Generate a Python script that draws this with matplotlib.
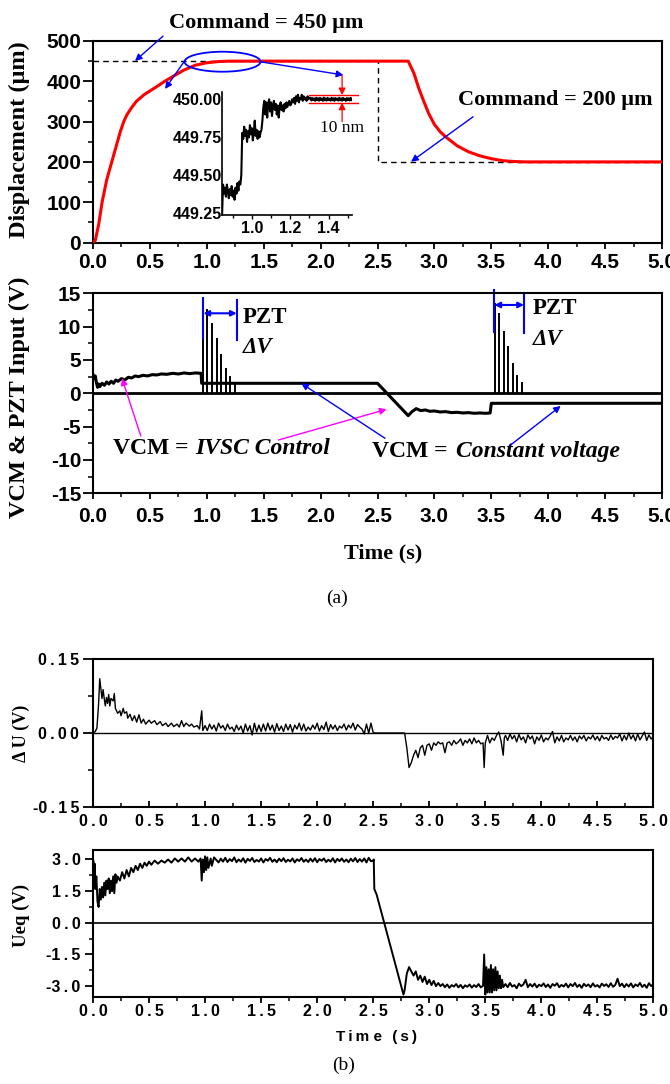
import matplotlib
matplotlib.use("Agg")
import matplotlib.pyplot as plt
import numpy as np
from matplotlib.patches import Ellipse
from matplotlib.ticker import MultipleLocator, FormatStrFormatter, FuncFormatter

# ── Fonts / figure ───────────────────────────────────────────────────────────
SERIF = "Liberation Serif"
SANS = "Liberation Sans"
plt.rcParams["font.family"] = [SANS, "DejaVu Sans"]
plt.rcParams["font.weight"] = "bold"
plt.rcParams["axes.linewidth"] = 1.5
plt.rcParams["axes.unicode_minus"] = False

W, H = 670, 1084          # output size in pixels (dpi 100)
THIN = "\u2009"

# ── Data ─────────────────────────────────────────────────────────────────────
# (a) top: displacement response and command
disp_t = [0.00, 0.02, 0.05, 0.08, 0.12, 0.165, 0.21, 0.24, 0.27, 0.30, 0.34,
          0.38, 0.45, 0.55, 0.63, 0.72, 0.80, 0.90, 1.00, 1.10, 1.20, 2.00,
          2.77, 2.82, 2.86, 2.90, 2.95, 3.00, 3.05, 3.10, 3.20, 3.30, 3.40,
          3.50, 3.60, 3.70, 3.80, 5.00]
disp_v = [0, 5, 45, 100, 155, 200, 245, 275, 300, 318, 335, 350, 367, 385,
          400, 415, 428, 440, 446, 449, 450, 450, 450, 420, 385, 355, 320,
          293, 275, 262, 240, 225, 215, 208, 203, 201, 200, 200]
cmd_t = [0.0, 2.5, 2.5, 5.0]
cmd_v = [450, 450, 200, 200]

# inset: zoom of the settling near 450 um
ins_a = [449.24, 449.44, 449.38, 449.42, 449.36, 449.44, 449.40, 449.35,
         449.41, 449.37, 449.43, 449.36, 449.40, 449.34, 449.42, 449.38,
         449.45, 449.40, 449.46, 449.44, 449.50]
ins_b = [449.78, 449.74, 449.82, 449.76, 449.80, 449.72, 449.79, 449.75,
         449.83, 449.77, 449.81, 449.73, 449.78, 449.86, 449.76, 449.80,
         449.74, 449.79, 449.75, 449.78, 449.80, 449.86]
ins_c = [449.95, 449.99, 449.90, 449.98, 449.88, 449.97, 450.00, 449.92,
         449.98, 449.89, 449.96, 449.99, 449.93, 449.97, 449.90, 449.96,
         449.88, 449.95, 449.98, 449.93, 449.96, 449.92, 449.97, 449.94,
         449.98, 449.95, 449.97, 449.99, 449.96]
ins_d = [449.97, 450.00, 449.98, 450.01, 449.97, 450.02, 449.99, 450.03,
         449.98, 450.01, 450.00, 450.03, 449.99, 450.02, 450.00, 450.01,
         449.99, 450.02, 450.00, 450.01]
ins_e = [450.010, 449.992, 450.008, 449.995, 450.006, 449.990, 450.010,
         449.994, 450.007, 449.991, 450.009, 449.996, 450.005, 449.990,
         450.011, 449.993, 450.006, 449.992, 450.009, 449.995, 450.004,
         449.991, 450.010, 449.994, 450.007, 449.990, 450.008, 449.996,
         450.005, 449.992, 450.010, 449.993, 450.006, 449.991, 450.009,
         449.995, 450.004, 449.990, 450.008, 449.994, 450.007, 449.992,
         450.009, 449.996]

# (a) middle: VCM input and PZT pulses
vcm_t = [0.00, 0.01, 0.02, 0.03, 0.04, 0.05, 0.06, 0.08, 0.10, 0.12, 0.14,
         0.16, 0.18, 0.20, 0.22, 0.25, 0.28, 0.31, 0.34, 0.37, 0.40, 0.44,
         0.48, 0.52, 0.56, 0.60, 0.65, 0.70, 0.75, 0.80, 0.85, 0.90, 0.95,
         0.955, 2.50, 2.77, 2.80, 2.84, 2.88, 2.92, 2.96, 3.00, 3.05, 3.10,
         3.15, 3.20, 3.25, 3.30, 3.35, 3.40, 3.45, 3.49, 3.50, 5.00]
vcm_v = [2.8, 2.2, 2.6, 1.6, 0.9, 1.4, 1.0, 1.5, 1.2, 1.7, 1.4, 1.8, 1.5,
         2.0, 1.8, 2.2, 2.0, 2.4, 2.3, 2.6, 2.5, 2.7, 2.6, 2.8, 2.75, 2.9,
         2.85, 3.0, 2.9, 3.05, 2.95, 3.05, 3.0, 1.5, 1.5, -3.35, -2.8, -2.3,
         -2.6, -2.5, -2.7, -2.65, -2.8, -2.75, -2.9, -2.85, -2.95, -2.9,
         -3.0, -2.95, -3.0, -2.95, -1.5, -1.5]
pzt1_t = [0.964, 0.999, 1.043, 1.087, 1.127, 1.166, 1.206, 1.248]
pzt1_v = [14.0, 12.6, 10.5, 8.25, 5.9, 3.75, 2.6, 1.6]
pzt2_t = [3.533, 3.57, 3.61, 3.65, 3.69, 3.73, 3.77]
pzt2_v = [13.5, 12.0, 9.35, 7.1, 4.6, 2.75, 1.75]

# (b) top: delta U
du_t0 = [0.00, 0.02, 0.035, 0.05, 0.06, 0.07, 0.08, 0.09, 0.10, 0.11, 0.12,
         0.13, 0.14, 0.15, 0.16, 0.18, 0.19, 0.20, 0.21, 0.22, 0.24, 0.25,
         0.27, 0.28, 0.30, 0.31, 0.33, 0.35, 0.37, 0.39, 0.41, 0.43, 0.45,
         0.47, 0.50, 0.52, 0.55, 0.57, 0.60, 0.62, 0.65, 0.67, 0.70, 0.72,
         0.75, 0.77, 0.79, 0.81, 0.83, 0.86, 0.88, 0.90, 0.93, 0.95, 0.97,
         0.98, 1.00]
du_v0 = [0.0, 0.003, 0.01, 0.06, 0.11, 0.09, 0.07, 0.088, 0.07, 0.055,
         0.072, 0.06, 0.078, 0.055, 0.07, 0.065, 0.08, 0.05, 0.045, 0.04,
         0.045, 0.035, 0.05, 0.04, 0.043, 0.03, 0.038, 0.025, 0.035, 0.022,
         0.037, 0.02, 0.028, 0.018, 0.026, 0.02, 0.025, 0.017, 0.023, 0.015,
         0.02, 0.013, 0.02, 0.013, 0.018, 0.012, 0.025, 0.013, 0.02, 0.014,
         0.018, 0.012, 0.015, 0.008, 0.045, 0.005, 0.015]
du_mid = [0.005, 0.018, 0.008, 0.016, 0.004, 0.02, 0.01, 0.015, 0.005, 0.018,
          0.008, 0.012, 0.003, 0.016, 0.006, 0.014, 0.0, 0.018, 0.004, 0.015,
          -0.004, 0.02, 0.002, 0.016, 0.003, 0.018, 0.004, 0.02, 0.006,
          0.016, 0.002, 0.019, 0.005, 0.014, 0.003, 0.018, 0.006, 0.017,
          0.002, 0.016, 0.008, 0.02, 0.005, 0.018, 0.004, 0.012, 0.006,
          0.016, 0.008, 0.02, 0.004, 0.015, 0.007, 0.022, 0.003, 0.017,
          0.008, 0.016, 0.005, 0.014, 0.01, 0.018, 0.006, 0.016, 0.01, 0.02,
          0.006, 0.017, 0.012, 0.008, -0.002, 0.018, 0.0, 0.02, 0.001]
du_t1 = [2.52, 2.78, 2.80, 2.82, 2.84, 2.86, 2.88, 2.90, 2.92, 2.94, 2.96,
         2.98, 3.00, 3.02, 3.04, 3.06, 3.08, 3.10, 3.12, 3.14, 3.16, 3.18,
         3.20, 3.22, 3.24, 3.26, 3.28, 3.30, 3.32, 3.34, 3.36, 3.38, 3.40,
         3.42, 3.44, 3.46, 3.48, 3.49, 3.50, 3.52, 3.54, 3.56, 3.58, 3.60,
         3.62, 3.64, 3.66, 3.67]
du_v1 = [0.0, 0.0, -0.03, -0.07, -0.06, -0.045, -0.035, -0.05, -0.03,
         -0.025, -0.045, -0.025, -0.022, -0.035, -0.02, -0.025, -0.018,
         -0.022, -0.02, -0.04, -0.02, -0.018, -0.025, -0.015, -0.022, -0.018,
         -0.012, -0.025, -0.015, -0.02, -0.012, -0.022, -0.01, -0.02, -0.015,
         -0.022, -0.02, -0.07, -0.02, -0.005, -0.02, -0.01, -0.015, -0.005,
         0.002, -0.015, -0.045, -0.01]
du_tail = [-0.005, -0.015, -0.002, -0.012, -0.005, -0.018, -0.003, -0.014,
           -0.008, -0.02, -0.004, -0.012, -0.006, -0.022, -0.008, -0.015,
           -0.004, -0.018, -0.01, -0.014, -0.006, 0.003, -0.02, -0.008,
           -0.016, -0.005, -0.018, -0.01, -0.014, -0.005, -0.015, -0.008,
           -0.018, -0.006, -0.012, -0.005, -0.016, -0.008, -0.012, -0.004,
           -0.014, -0.007, -0.016, -0.005, -0.012, -0.009, -0.015, -0.004,
           -0.013, -0.007, -0.01, -0.002, -0.016, -0.005, -0.014, 0.0,
           -0.012, -0.004, -0.016, -0.002, -0.014, -0.006, 0.002, -0.015,
           -0.004, -0.012, -0.008]

# (b) bottom: Ueq
ueq_t0 = [0.0, 0.005, 0.01, 0.015, 0.02, 0.03, 0.04, 0.05, 0.06, 0.07, 0.08,
          0.09, 0.10, 0.11, 0.12, 0.13, 0.14, 0.15, 0.16, 0.17, 0.18, 0.19,
          0.20, 0.21, 0.22, 0.24, 0.26, 0.28, 0.30, 0.32, 0.34, 0.36, 0.38,
          0.40, 0.42, 0.44, 0.46, 0.48, 0.50, 0.52, 0.55, 0.58, 0.61, 0.64,
          0.67, 0.70, 0.73, 0.76, 0.79, 0.82, 0.85, 0.88, 0.91, 0.94, 0.96,
          0.97, 0.98, 0.99, 1.00, 1.01, 1.02, 1.03, 1.05, 1.06, 1.08]
ueq_v0 = [3.0, 2.9, 2.0, 2.8, 1.6, 2.2, 1.0, 0.75, 1.6, 1.1, 1.7, 1.2, 1.9,
          1.3, 2.0, 1.6, 2.1, 1.4, 2.0, 1.5, 2.2, 1.4, 2.3, 1.9, 2.2, 2.0,
          2.4, 2.1, 2.5, 2.2, 2.6, 2.4, 2.7, 2.5, 2.8, 2.6, 2.85, 2.7, 2.9,
          2.75, 2.95, 2.8, 2.95, 2.85, 3.0, 2.85, 3.05, 2.9, 3.05, 2.9, 3.1,
          2.9, 3.05, 2.9, 3.05, 2.0, 3.0, 2.4, 3.15, 2.5, 3.1, 2.6, 3.05, 2.7,
          3.1]
ueq_plat = [2.98, 2.86, 3.04, 2.9, 3.08, 2.88, 3.02, 2.92, 3.1, 2.87, 3.0,
            2.9, 3.06, 2.85, 3.03, 2.93, 3.07, 2.88, 2.98, 2.9, 3.05, 2.86,
            3.02, 2.94, 3.08, 2.89, 3.0, 2.87, 3.04, 2.92, 3.06, 2.88, 2.99,
            2.91, 3.05, 2.86, 3.01, 2.93, 3.07, 2.89, 3.0, 2.88, 3.04, 2.9,
            3.06, 2.87, 3.02, 2.94, 3.05, 2.88, 2.99, 2.9, 3.06, 2.86, 3.03,
            2.92, 3.05, 2.89, 3.0, 2.87, 3.04, 2.91, 3.07, 2.88, 3.02, 2.9,
            3.05, 2.86, 3.08, 2.92]
ueq_t1 = [2.50, 2.505, 2.51, 2.53, 2.77, 2.78, 2.80, 2.82, 2.84, 2.86, 2.88,
          2.90, 2.92, 2.94, 2.96, 2.98, 3.00, 3.02, 3.04, 3.06]
ueq_v1 = [2.95, 3.0, 1.6, 1.35, -3.4, -3.2, -2.4, -2.1, -2.3, -2.5, -2.3,
          -2.7, -2.5, -2.8, -2.55, -2.9, -2.7, -2.95, -2.75, -3.0]
ueq_mid = [-2.85, -3.0, -2.9, -3.05, -2.92, -3.08, -2.95, -3.02, -2.9, -3.06,
           -2.94, -3.1, -2.96, -3.03, -2.92, -3.07, -2.95, -3.04, -2.9,
           -3.06, -2.98]
ueq_t2 = [3.49, 3.50, 3.51, 3.52, 3.53, 3.54, 3.55, 3.56, 3.57, 3.58, 3.59,
          3.60, 3.61, 3.62, 3.63, 3.64, 3.65, 3.66]
ueq_v2 = [-1.5, -3.4, -2.1, -3.3, -2.2, -3.3, -2.0, -3.3, -2.2, -3.2, -2.1,
          -3.2, -2.3, -3.1, -2.5, -3.1, -2.7, -3.05]
ueq_tail = [-2.9, -3.05, -2.85, -3.02, -2.95, -3.1, -2.88, -3.0, -2.92, -2.7,
            -3.05, -2.9, -3.02, -2.88, -3.06, -2.93, -3.0, -2.87, -3.04,
            -2.92, -3.08, -2.9, -2.98, -2.86, -3.05, -2.94, -3.02, -2.88,
            -3.06, -2.9, -3.0, -2.85, -3.04, -2.93, -3.08, -2.89, -3.0, -2.92,
            -3.05, -2.87, -3.02, -2.95, -3.06, -2.88, -2.99, -2.91, -3.04,
            -2.86, -3.03, -2.94, -2.65, -3.0, -2.88, -3.05, -2.9, -3.02,
            -2.87, -3.06, -2.92, -3.0, -2.85, -3.04, -2.93, -3.08, -2.86,
            -3.0, -2.9]


def samples(t0, t1, vals):
    """Evenly spaced sample times for a typed-in stretch of values."""
    return np.linspace(t0, t1, len(vals))


ins_t = np.concatenate([samples(0.845, 0.945, ins_a), samples(0.95, 1.055, ins_b),
                        samples(1.06, 1.20, ins_c), samples(1.205, 1.30, ins_d),
                        samples(1.305, 1.52, ins_e)])
ins_v = np.concatenate([ins_a, ins_b, ins_c, ins_d, ins_e])

du_t = np.concatenate([du_t0, samples(1.02, 2.50, du_mid), du_t1,
                       samples(3.68, 5.0, du_tail)])
du_v = np.concatenate([du_v0, du_mid, du_v1, du_tail])

ueq_t = np.concatenate([ueq_t0, samples(1.10, 2.48, ueq_plat), ueq_t1,
                        samples(3.08, 3.48, ueq_mid), ueq_t2,
                        samples(3.68, 5.0, ueq_tail)])
ueq_v = np.concatenate([ueq_v0, ueq_plat, ueq_v1, ueq_mid, ueq_v2, ueq_tail])


# ── Helpers ──────────────────────────────────────────────────────────────────
def box(x0, y0, x1, y1):
    """Axes rectangle from pixel edges (top-left origin)."""
    return [x0 / W, 1 - y1 / H, (x1 - x0) / W, (y1 - y0) / H]


def spaced(s):
    # letter-spaced tick text as in panel (b); keep the minus tight
    sign = "-" if s.startswith("-") else ""
    return sign + THIN.join(s.lstrip("-"))


def spaced_fmt(fmt):
    return FuncFormatter(lambda v, pos: spaced(fmt % v))


def arrow(ax, start, end, color, lw=1.0, clip=False):
    ax.annotate("", xy=end, xytext=start, annotation_clip=clip,
                arrowprops=dict(arrowstyle="-|>", color=color, lw=lw,
                                mutation_scale=10, shrinkA=0, shrinkB=0))


def style_axes(ax, size, xdir="out", xlen=4, ylen=7.5, xpad=4, ypad=1):
    ax.tick_params(axis="x", which="major", direction=xdir, length=xlen,
                   width=1.3, labelsize=size, pad=xpad)
    ax.tick_params(axis="x", which="minor", direction=xdir, length=xlen * 0.8,
                   width=1.1)
    ax.tick_params(axis="y", which="major", direction="out", length=ylen,
                   width=1.3, labelsize=size, pad=ypad)
    ax.tick_params(axis="y", which="minor", direction="out", length=ylen * 0.5,
                   width=1.1)


fig = plt.figure(figsize=(W / 100, H / 100), dpi=100)

# ── (a) top: displacement ────────────────────────────────────────────────────
ax1 = fig.add_axes(box(93, 41, 662, 242.5))
ax1.plot(cmd_t, cmd_v, color="k", lw=1.0, ls=(0, (4, 3)), zorder=2)
ax1.plot(disp_t, disp_v, color="#ff0000", lw=2.2, zorder=3)
ax1.set_xlim(0, 5)
ax1.set_ylim(0, 500)
ax1.xaxis.set_major_locator(MultipleLocator(0.5))
ax1.xaxis.set_minor_locator(MultipleLocator(0.25))
ax1.xaxis.set_major_formatter(FormatStrFormatter("%.1f"))
ax1.yaxis.set_major_locator(MultipleLocator(100))
ax1.yaxis.set_minor_locator(MultipleLocator(50))
style_axes(ax1, 15, xpad=3.5)

ax1.add_patch(Ellipse((1.138, 448.6), 0.668, 49.6, fill=False,
                      edgecolor="blue", lw=1.3, zorder=4))
arrow(ax1, (0.615, 512), (0.369, 450.4), "blue")
arrow(ax1, (0.80, 448.6), (0.633, 381), "blue")
arrow(ax1, (1.467, 448.6), (2.20, 415.6), "blue")
arrow(ax1, (3.34, 312), (2.795, 200.5), "blue")
ax1.text(1.52, 545, "Command = 450 μm", family=SERIF, size=16,
         ha="center", va="center", clip_on=False)
ax1.text(4.06, 353, "Command = 200 μm", family=SERIF, size=16,
         ha="center", va="center")

# inset
axi = fig.add_axes(box(221.7, 91.7, 351.7, 215))
axi.patch.set_alpha(0)
axi.plot(ins_t, ins_v, color="k", lw=1.5)
axi.set_xlim(0.843, 1.52)
axi.set_ylim(449.24, 450.05)
axi.spines["top"].set_visible(False)
axi.spines["right"].set_visible(False)
for s in ("left", "bottom"):
    axi.spines[s].set_linewidth(1.2)
axi.set_xticks([1.0, 1.2, 1.4])
axi.xaxis.set_minor_locator(MultipleLocator(0.1))
axi.set_yticks([449.25, 449.50, 449.75, 450.00])
axi.yaxis.set_major_formatter(FormatStrFormatter("%.2f"))
axi.tick_params(axis="both", which="major", direction="out", length=3,
                width=1.0, labelsize=11.5, pad=1)
axi.tick_params(axis="x", which="minor", direction="out", length=2, width=1.0)
axi.tick_params(axis="y", which="major", length=0, pad=0)
for lvl in (450.028, 449.978):
    axi.plot([1.299, 1.555], [lvl, lvl], color="#ff0000", lw=1.0,
             clip_on=False)
arrow(axi, (1.47, 450.16), (1.47, 450.028), "#ff0000", lw=0.9)
arrow(axi, (1.47, 449.853), (1.47, 449.978), "#ff0000", lw=0.9)
axi.text(1.47, 449.81, "10 nm", family=SERIF, weight="normal", size=12.5,
         ha="center", va="center", clip_on=False)

# ── (a) middle: VCM & PZT input ──────────────────────────────────────────────
ax2 = fig.add_axes(box(93, 293.3, 662, 493.3))
ax2.axhline(0, color="k", lw=2.0)
ax2.plot(vcm_t, vcm_v, color="k", lw=2.2)
ax2.vlines(pzt1_t, 0, pzt1_v, color="k", lw=1.4)
ax2.vlines(pzt2_t, 0, pzt2_v, color="k", lw=1.4)
ax2.set_xlim(0, 5)
ax2.set_ylim(-15, 15)
ax2.xaxis.set_major_locator(MultipleLocator(0.5))
ax2.xaxis.set_minor_locator(MultipleLocator(0.25))
ax2.xaxis.set_major_formatter(FormatStrFormatter("%.1f"))
ax2.yaxis.set_major_locator(MultipleLocator(5))
ax2.yaxis.set_minor_locator(MultipleLocator(2.5))
style_axes(ax2, 15, xpad=6)

# PZT markers
for (ta, tb, lo_a, hi_a, lo_b, hi_b, ya) in [(0.97, 1.263, 8.25, 14.25, 8.0, 14.0, 12.0),
                                             (3.527, 3.787, 9.25, 15.5, 9.1, 15.1, 13.25)]:
    ax2.plot([ta, ta], [lo_a, hi_a], color="blue", lw=1.5, clip_on=False)
    ax2.plot([tb, tb], [lo_b, hi_b], color="blue", lw=1.5, clip_on=False)
    ax2.annotate("", xy=(tb, ya), xytext=(ta, ya), annotation_clip=False,
                 arrowprops=dict(arrowstyle="<|-|>", color="blue", lw=1.5,
                                 mutation_scale=8, shrinkA=0, shrinkB=0))
ax2.text(1.318, 11.3, "PZT", family=SERIF, size=16.5, ha="left", va="center")
ax2.text(1.318, 6.8, "ΔV", family=SERIF, style="italic", size=16.5,
         ha="left", va="center")
ax2.text(3.864, 12.75, "PZT", family=SERIF, size=16.5, ha="left", va="center")
ax2.text(3.866, 8.0, "ΔV", family=SERIF, style="italic", size=16.5,
         ha="left", va="center")

ax2.text(0.176, -8.25, "VCM =", family=SERIF, size=17, ha="left", va="center")
ax2.text(0.894, -8.25, "IVSC Control", family=SERIF, style="italic", size=17,
         ha="left", va="center")
ax2.text(2.454, -8.75, "VCM =", family=SERIF, size=17, ha="left", va="center")
ax2.text(3.187, -8.75, "Constant voltage", family=SERIF, style="italic",
         size=17, ha="left", va="center")
arrow(ax2, (0.42, -6.4), (0.255, 2.25), "#ff00ff")
arrow(ax2, (1.63, -7.0), (2.58, -2.4), "#ff00ff")
arrow(ax2, (2.566, -6.75), (1.83, 1.5), "blue")
arrow(ax2, (3.67, -7.75), (4.11, -1.9), "blue")

# ── (b) top: delta U ─────────────────────────────────────────────────────────
ax3 = fig.add_axes(box(93, 659, 653.4, 807))
ax3.axhline(0, color="k", lw=1.0)
ax3.plot(du_t, du_v, color="k", lw=1.0)
ax3.set_xlim(0, 5)
ax3.set_ylim(-0.15, 0.15)
ax3.xaxis.set_major_locator(MultipleLocator(0.5))
ax3.xaxis.set_minor_locator(MultipleLocator(0.25))
ax3.xaxis.set_major_formatter(spaced_fmt("%.1f"))
ax3.yaxis.set_major_locator(MultipleLocator(0.15))
ax3.yaxis.set_minor_locator(MultipleLocator(0.075))
ax3.yaxis.set_major_formatter(spaced_fmt("%.2f"))
style_axes(ax3, 11.5, xdir="in", xlen=4, ylen=7, xpad=5, ypad=3)

# ── (b) bottom: Ueq ──────────────────────────────────────────────────────────
ax4 = fig.add_axes(box(93, 850, 653.4, 996.7))
ax4.axhline(0, color="k", lw=1.2)
ax4.plot(ueq_t, ueq_v, color="k", lw=1.4)
ax4.set_xlim(0, 5)
ax4.set_ylim(-3.5, 3.45)
ax4.xaxis.set_major_locator(MultipleLocator(0.5))
ax4.xaxis.set_minor_locator(MultipleLocator(0.25))
ax4.xaxis.set_major_formatter(spaced_fmt("%.1f"))
ax4.yaxis.set_major_locator(MultipleLocator(1.5))
ax4.yaxis.set_minor_locator(MultipleLocator(0.75))
ax4.yaxis.set_major_formatter(spaced_fmt("%.1f"))
style_axes(ax4, 11.5, xdir="out", xlen=4, ylen=6, xpad=1.5, ypad=3)

# ── Labels and captions ──────────────────────────────────────────────────────
def ftext(x, y, s, **kw):
    fig.text(x / W, 1 - y / H, s, ha="center", va="center", **kw)


ftext(19, 140, "Displacement (μm)", family=SERIF, size=17.5, rotation=90)
ftext(19, 397, "VCM & PZT Input (V)", family=SERIF, size=17.5, rotation=90)
ftext(383, 553, "Time (s)", family=SERIF, size=16)
ftext(337, 598, "(a)", family=SERIF, weight="normal", size=14)
ftext(21, 733, "Δ U (V)", family=SERIF, size=13, rotation=90)
ftext(21, 915, "Ueq (V)", family=SERIF, size=13.5, rotation=90)
ftext(377, 1037, spaced("Tim") + " " + spaced("e (s)"), size=11)
ftext(344, 1065, "(b)", family=SERIF, weight="normal", size=14)

fig.savefig("out.png", dpi=100)
